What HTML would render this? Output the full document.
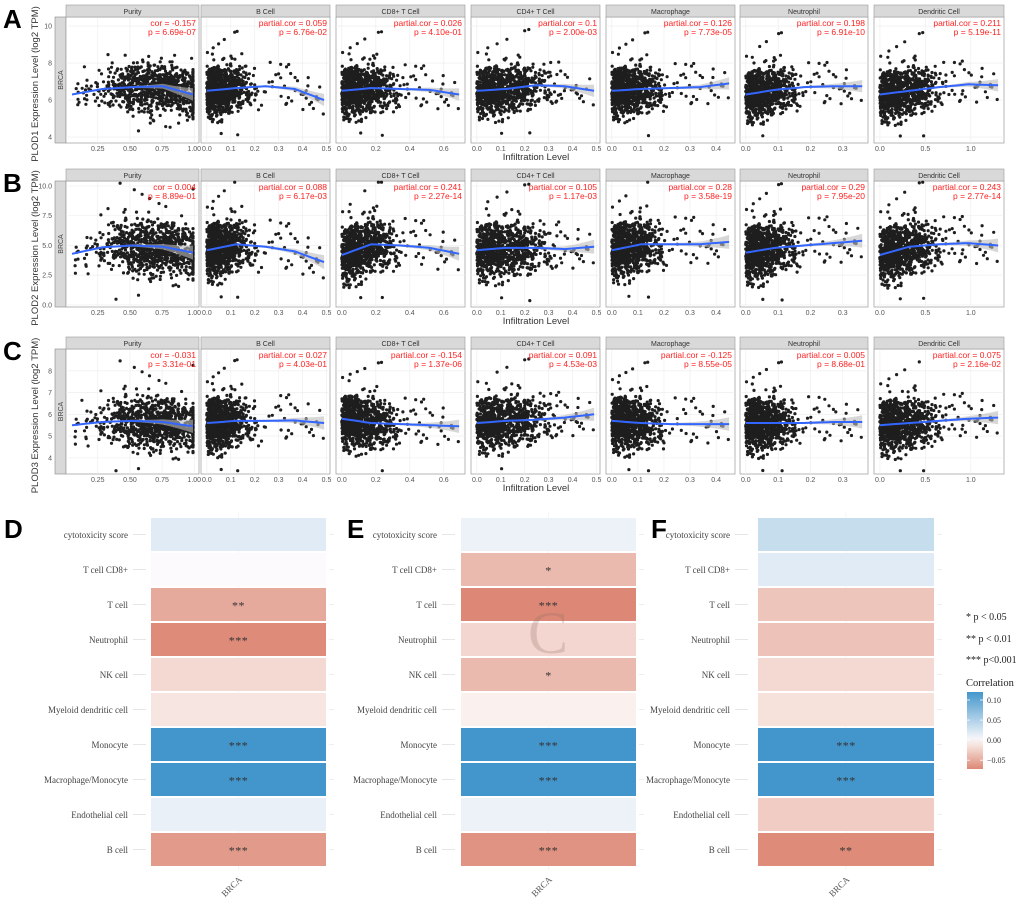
<!DOCTYPE html>
<html><head><meta charset="utf-8">
<style>
html,body{margin:0;padding:0;background:#fff;}
svg{display:block;font-family:"Liberation Sans",sans-serif;}
.ser{font-family:"Liberation Serif",serif;}
</style></head>
<body>
<svg id="fig" width="1020" height="899" viewBox="0 0 1020 899" xmlns="http://www.w3.org/2000/svg">
<g id="scatter"></g>
<g id="heat"></g>
</svg>
<script>
// ---------- scatter data ----------
const cellTypes = ["Purity","B Cell","CD8+ T Cell","CD4+ T Cell","Macrophage","Neutrophil","Dendritic Cell"];
const genes = ["PLOD1","PLOD2","PLOD3"];
const rowLetters = ["A","B","C"];
const xMin = [0.05,0,0,0,0,0,0];
const xMax = [0.99,0.49,0.69,0.49,0.45,0.36,1.3];
const xTicks = [[0.25,0.5,0.75,1.0],[0,0.1,0.2,0.3,0.4,0.5],[0,0.2,0.4,0.6],[0,0.1,0.2,0.3,0.4,0.5],[0,0.1,0.2,0.3,0.4],[0,0.1,0.2,0.3],[0,0.5,1.0]];
const xTickLabels = [["0.25","0.50","0.75","1.00"],["0.0","0.1","0.2","0.3","0.4","0.5"],["0.0","0.2","0.4","0.6"],["0.0","0.1","0.2","0.3","0.4","0.5"],["0.0","0.1","0.2","0.3","0.4"],["0.0","0.1","0.2","0.3"],["0.0","0.5","1.0"]];
const yDomains = [[3.68,10.49],[-0.17,10.42],[3.26,9.0]];
const yTicks = [[4,6,8,10],[0,2.5,5,7.5,10],[4,5,6,7,8]];
const yTickLabels = [["4","6","8","10"],["0.0","2.5","5.0","7.5","10.0"],["4","5","6","7","8"]];
const ySpread = [0.6,1.05,0.55];
const corVals = [
 ["-0.157","0.059","0.026","0.1","0.126","0.198","0.211"],
 ["0.004","0.088","0.241","0.105","0.28","0.29","0.243"],
 ["-0.031","0.027","-0.154","0.091","-0.125","0.005","0.075"]];
const pVals = [
 ["6.69e-07","6.76e-02","4.10e-01","2.00e-03","7.73e-05","6.91e-10","5.19e-11"],
 ["8.89e-01","6.17e-03","2.27e-14","1.17e-03","3.58e-19","7.95e-20","2.77e-14"],
 ["3.31e-01","4.03e-01","1.37e-06","4.53e-03","8.55e-05","8.68e-01","2.16e-02"]];
// loess trend: y values at 5 evenly spaced x positions across each panel's data range
const trendA = [[6.3,6.6,6.7,6.75,6.3],[6.5,6.65,6.75,6.6,6.0],[6.5,6.65,6.6,6.55,6.3],[6.5,6.6,6.8,6.75,6.5],[6.5,6.6,6.65,6.7,6.9],[6.3,6.55,6.7,6.75,6.75],[6.3,6.5,6.7,6.85,6.8]];
const trendB = [[4.3,4.85,5.0,4.9,4.4],[4.6,5.1,4.9,4.5,3.6],[4.2,5.1,5.0,4.8,4.3],[4.6,4.8,4.8,4.7,4.9],[4.6,5.1,5.1,5.1,5.3],[4.4,4.8,5.0,5.2,5.4],[4.2,4.9,5.1,5.2,5.0]];
const trendC = [[5.5,5.65,5.7,5.65,5.45],[5.6,5.7,5.7,5.72,5.6],[5.8,5.6,5.55,5.5,5.45],[5.6,5.7,5.75,5.85,6.0],[5.7,5.6,5.55,5.55,5.55],[5.6,5.6,5.6,5.65,5.65],[5.5,5.6,5.7,5.8,5.85]];
const trends = [trendA,trendB,trendC];
// typical concentration of infiltration values (fraction of range where cloud sits)
const xConc = [0.3,0.32,0.42,0.55,0.38,0.38,0.45];

// ---------- heatmap data ----------
const heatRows = ["cytotoxicity score","T cell CD8+","T cell","Neutrophil","NK cell","Myeloid dendritic cell","Monocyte","Macrophage/Monocyte","Endothelial cell","B cell"];
const corrD = [0.018,0.0,-0.05,-0.07,-0.02,-0.012,0.12,0.12,0.012,-0.06];
const corrE = [0.01,-0.04,-0.075,-0.022,-0.04,-0.005,0.12,0.12,0.01,-0.065];
const corrF = [0.035,0.018,-0.033,-0.035,-0.02,-0.015,0.12,0.12,-0.028,-0.07];
const starsD = ["","","**","***","","","***","***","","***"];
const starsE = ["","*","***","","*","","***","***","","***"];
const starsF = ["","","","","","","***","***","","**"];
const legendTicks = [0.10,0.05,0.00,-0.05];
const legendTickLabels = ["0.10","0.05","0.00","\u22120.05"];

const NS="http://www.w3.org/2000/svg";
function mk(tag,attrs,parent,text){const e=document.createElementNS(NS,tag);for(const k in attrs)e.setAttribute(k,attrs[k]);if(text!==undefined)e.textContent=text;parent.appendChild(e);return e;}

// texture generator (deterministic) for dense point clouds
let seed=12345;
function rnd(){seed=(seed*1103515245+12345)%2147483648;return seed/2147483648;}
function gauss(){return (rnd()+rnd()+rnd()+rnd()-2)*1.7;}

const panelX=[66,201,336,471,606,740,874];
const panelW=[133,129,129,129,129,128,130];
const rowTop=[5,169,337];
const sc=document.getElementById('scatter');

for(let r=0;r<3;r++){
  const st=rowTop[r], pt=st+12, pb=[143,307,474][r];
  const yd=yDomains[r];
  const ys=v=>pb-(v-yd[0])/(yd[1]-yd[0])*(pb-pt);
  const row=mk('g',{},sc);
  
  
  const L=mk('text',{x:3,y:st+23,'font-size':26,'font-weight':'bold',fill:'#000'},row,rowLetters[r]);
  
  
  const bs=mk('rect',{x:55,y:pt,width:11,height:pb-pt,fill:'#d9d9d9',stroke:'#888','stroke-width':0.6},row);
  
  
  const bt=mk('text',{transform:`translate(63,${(pt+pb)/2}) rotate(-90)`,'text-anchor':'middle','font-size':7,fill:'#444'},row,'BRCA');
  
  
  yTicks[r].forEach((t,i)=>{
    const tl=mk('text',{x:52,y:ys(t)+2.5,'text-anchor':'end','font-size':7,fill:'#555'},row,yTickLabels[r][i]);
    
    
  });
  const yt=mk('text',{transform:`translate(38,${(pt+pb)/2+4}) rotate(-90)`,'text-anchor':'middle','font-size':9.5,fill:'#333'},row,genes[r]+' Expression Level (log2 TPM)');
  
  
  const xt=mk('text',{x:536,y:pb+17,'text-anchor':'middle','font-size':9.5,fill:'#333'},row,'Infiltration Level');
  
  

  for(let c=0;c<7;c++){
    const px=panelX[c], pw=panelW[c];
    const g=mk('g',{},row);
    
    
    const pad=(xMax[c]-xMin[c])*0.05;
    const x0=xMin[c]-pad,x1=xMax[c]+pad;
    const xs=v=>px+(v-x0)/(x1-x0)*pw;
    mk('rect',{x:px,y:pt,width:pw,height:pb-pt,fill:'#fff',stroke:'#999','stroke-width':0.7},g);
    xTicks[c].forEach(t=>mk('line',{x1:xs(t),x2:xs(t),y1:pt,y2:pb,stroke:'#ececec','stroke-width':0.6},g));
    yTicks[r].forEach(t=>mk('line',{x1:px,x2:px+pw,y1:ys(t),y2:ys(t),stroke:'#ececec','stroke-width':0.6},g));
    const s=mk('rect',{x:px,y:st,width:pw,height:12,fill:'#d9d9d9',stroke:'#999','stroke-width':0.6},g);
    
    
    const stx=mk('text',{x:px+pw/2,y:st+9,'text-anchor':'middle','font-size':7,fill:'#333'},g,cellTypes[c]);
    
    
    xTicks[c].forEach((t,i)=>{
      const tl=mk('text',{x:xs(t),y:pb+8,'text-anchor':'middle','font-size':7,fill:'#555'},g,xTickLabels[c][i]);
      
      
    });
    const tr=trends[r][c];
    const trendAt=v=>{let f=(v-xMin[c])/(xMax[c]-xMin[c])*4;f=Math.max(0,Math.min(4,f));const i=Math.min(3,Math.floor(f));const u=f-i;return tr[i]*(1-u)+tr[i+1]*u;};
    const pts=mk('g',{fill:'#1e1e1e'},g);
    
    
    const N=950;
    for(let k=0;k<N;k++){
      let xv;
      if(c===0){xv=0.72+gauss()*0.2;}
      else{xv=xMin[c]+Math.abs(gauss())*xConc[c]*0.5*(xMax[c]-xMin[c]);}
      if(rnd()<0.08) xv=xMin[c]+rnd()*(xMax[c]-xMin[c]);
      xv=Math.max(xMin[c],Math.min(xMax[c],xv));
      let yv=trendAt(xv)+gauss()*ySpread[r]*(rnd()<0.12?1.8:1);
      yv=Math.max(yd[0]+0.15,Math.min(yd[1]-0.1,yv));
      mk('circle',{cx:xs(xv).toFixed(1),cy:ys(yv).toFixed(1),r:1.6},pts);
    }
    let up=[],dn=[],ln=[];
    for(let j=0;j<=20;j++){
      const xv=xMin[c]+(xMax[c]-xMin[c])*j/20;
      const yv=trendAt(xv);
      const w=(0.06+0.5*Math.pow(j/20,4))*ySpread[r];
      up.push(xs(xv).toFixed(1)+','+ys(yv+w).toFixed(1));
      dn.unshift(xs(xv).toFixed(1)+','+ys(yv-w).toFixed(1));
      ln.push(xs(xv).toFixed(1)+','+ys(yv).toFixed(1));
    }
    const band=mk('polygon',{points:up.concat(dn).join(' '),fill:'#bdbdbd','fill-opacity':0.6},g);
    
    
    const line=mk('polyline',{points:ln.join(' '),fill:'none',stroke:'#3366ff','stroke-width':2},g);
    
    
    const lab=c===0?'cor = ':'partial.cor = ';
    const a1=mk('text',{x:px+pw-3,y:pt+9,'text-anchor':'end','font-size':8.5,fill:'#ff2222'},g,lab+corVals[r][c]);
    
    
    const a2=mk('text',{x:px+pw-3,y:pt+18,'text-anchor':'end','font-size':8.5,fill:'#ff2222'},g,'p = '+pVals[r][c]);
    
    
  }
}

// ---------- heatmaps ----------
const hm=document.getElementById('heat');
function corrColor(v){
  const lerp=(a,b,t)=>Math.round(a+(b-a)*t);
  if(v>=0){const t=Math.min(1,v/0.12);return `rgb(${lerp(252,67,t)},${lerp(250,150,t)},${lerp(252,204,t)})`;}
  const t=Math.min(1,-v/0.072);return `rgb(${lerp(252,221,t)},${lerp(248,136,t)},${lerp(246,118,t)})`;
}
const heatCfg=[{L:'D',lx:4,tx0:151,tx1:326,labR:128,vals:corrD,stars:starsD},
               {L:'E',lx:347,tx0:461,tx1:636,labR:437,vals:corrE,stars:starsE},
               {L:'F',lx:651,tx0:758,tx1:934,labR:730,vals:corrF,stars:starsF}];
const hTop=518,pitch=35,tileH=33;
heatCfg.forEach(cfg=>{
  const g=mk('g',{},hm);
  
  
  const L=mk('text',{x:cfg.lx,y:538,'font-size':26,'font-weight':'bold',fill:'#000'},g,cfg.L);
  
  
  const cx=(cfg.tx0+cfg.tx1)/2;
  mk('line',{x1:cx,x2:cx,y1:hTop-6,y2:hTop+pitch*10+2,stroke:'#eee','stroke-width':0.6},g);
  heatRows.forEach((name,i)=>{
    const y=hTop+i*pitch;
    mk('line',{x1:cfg.labR+5,x2:cfg.labR+18,y1:y+tileH/2,y2:y+tileH/2,stroke:'#e6e6e6','stroke-width':1},g);
    mk('line',{x1:cfg.tx1+3,x2:cfg.tx1+8,y1:y+tileH/2,y2:y+tileH/2,stroke:'#eee','stroke-width':1},g);
    const t=mk('rect',{x:cfg.tx0,y:y,width:cfg.tx1-cfg.tx0,height:tileH,fill:corrColor(cfg.vals[i])},g);
    
    
    const lb=mk('text',{x:cfg.labR,y:y+tileH/2+3.5,'text-anchor':'end','font-size':9,fill:'#444',class:'ser'},g,name);
    
    
    if(cfg.stars[i]){
      const st=mk('text',{x:cx,y:y+tileH/2+5,'text-anchor':'middle','font-size':12,fill:'#333',class:'ser','letter-spacing':'0.5'},g,cfg.stars[i]);
      
      
    }
  });
  const bl=mk('text',{transform:`translate(${cx+4},${hTop+pitch*10+12}) rotate(-45)`,'text-anchor':'end','font-size':9,fill:'#555',class:'ser'},g,'BRCA');
  
  
});
const wm=mk('text',{x:548,y:653,'text-anchor':'middle','font-size':60,fill:'#8a6a60','fill-opacity':0.25,class:'ser'},hm,'C');



const lg=mk('g',{},hm);


[["* p < 0.05",620],["** p < 0.01",642],["*** p<0.001",663]].forEach(([t,y])=>{
  const e=mk('text',{x:966,y:y,'font-size':10,fill:'#222',class:'ser'},lg,t);
  
  
});
const ct=mk('text',{x:966,y:686,'font-size':10.5,fill:'#222',class:'ser'},lg,'Correlation');


const defs=mk('defs',{},lg);
const grad=mk('linearGradient',{id:'cbar',x1:0,y1:0,x2:0,y2:1},defs);
const cbTop=692,cbBot=769,vTop=0.12,vBot=-0.072;
for(let j=0;j<=10;j++){const v=vTop+(vBot-vTop)*j/10;mk('stop',{offset:(j/10),'stop-color':corrColor(v)},grad);}
const cb=mk('rect',{x:967,y:cbTop,width:16,height:cbBot-cbTop,fill:'url(#cbar)'},lg);


const cy=v=>cbTop+(vTop-v)/(vTop-vBot)*(cbBot-cbTop);
legendTicks.forEach((t,i)=>{
  mk('line',{x1:967,x2:970,y1:cy(t),y2:cy(t),stroke:'#fff','stroke-width':0.8},lg);
  mk('line',{x1:980,x2:983,y1:cy(t),y2:cy(t),stroke:'#fff','stroke-width':0.8},lg);
  const e=mk('text',{x:987,y:cy(t)+3,'font-size':8,fill:'#333',class:'ser'},lg,legendTickLabels[i]);
  
  
});
</script>
</body></html>
